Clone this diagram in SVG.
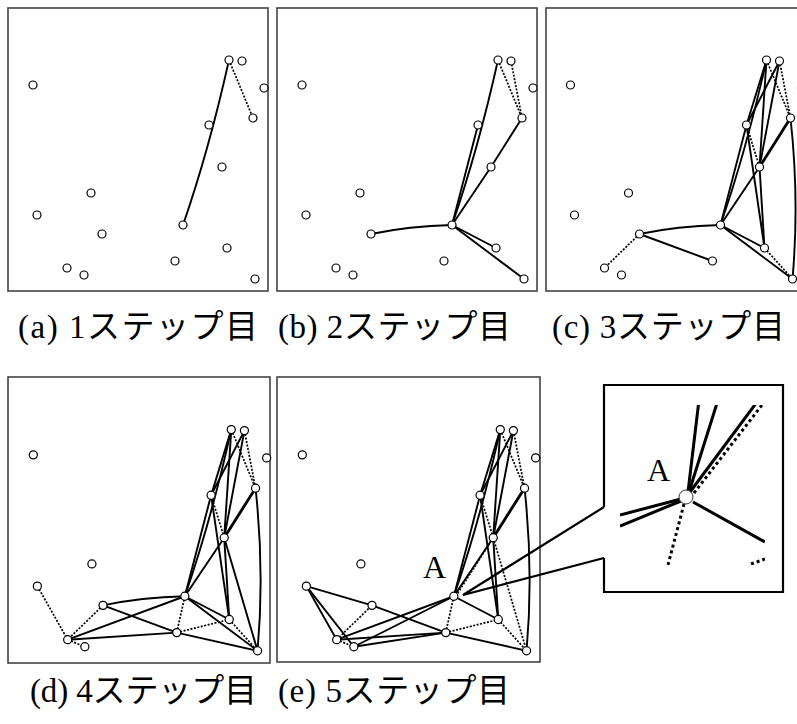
<svg xmlns="http://www.w3.org/2000/svg" width="797" height="724" viewBox="0 0 797 724">
<style>
.frame{fill:none;stroke:#444;stroke-width:1.6}
.node{fill:#fff;stroke:#000;stroke-width:1.2}
.s{fill:none;stroke:#000;stroke-width:1.9}
.t{fill:none;stroke:#000;stroke-width:2.8}
.d{fill:none;stroke:#000;stroke-width:1.7;stroke-dasharray:2 1.5}
.lbl{font-family:"Liberation Serif","Noto Sans CJK JP",serif;font-size:33px;fill:#000}
.big{font-family:"Liberation Serif",serif;font-size:32px;fill:#000}
.is{fill:none;stroke:#000;stroke-width:3}
.id{fill:none;stroke:#000;stroke-width:3;stroke-dasharray:3 3}
</style>
<defs>
<clipPath id="inclip"><rect x="620" y="405" width="145" height="160"/></clipPath>
</defs>

<!-- Panel frames -->
<rect class="frame" x="8" y="8" width="260" height="283"/>
<rect class="frame" x="277" y="8" width="260" height="283"/>
<rect class="frame" x="546" y="8" width="262" height="283"/>
<rect class="frame" x="8" y="377" width="262" height="286"/>
<rect class="frame" x="277" y="377" width="263" height="285"/>

<!-- Panel (a) -->
<g id="panel-a">
<g id="a-connectors">
<path class="s" d="M183,225 Q209,150 229,60"/>
<line class="d" x1="229" y1="60" x2="253" y2="118"/>
</g>
<g id="a-n1"><circle class="node" cx="33" cy="85" r="4"/></g>
<g id="a-n2"><circle class="node" cx="229" cy="60" r="4"/></g>
<g id="a-n3"><circle class="node" cx="242" cy="61" r="4"/></g>
<g id="a-n4"><circle class="node" cx="264" cy="88" r="4"/></g>
<g id="a-n5"><circle class="node" cx="253" cy="118" r="4"/></g>
<g id="a-n6"><circle class="node" cx="209" cy="125" r="4"/></g>
<g id="a-n7"><circle class="node" cx="222" cy="167" r="4"/></g>
<g id="a-n8"><circle class="node" cx="91" cy="193" r="4"/></g>
<g id="a-n9"><circle class="node" cx="37" cy="215" r="4"/></g>
<g id="a-n10"><circle class="node" cx="183" cy="225" r="4"/></g>
<g id="a-n11"><circle class="node" cx="102" cy="234" r="4"/></g>
<g id="a-n12"><circle class="node" cx="227" cy="248" r="4"/></g>
<g id="a-n13"><circle class="node" cx="175" cy="261" r="4"/></g>
<g id="a-n14"><circle class="node" cx="67" cy="268" r="4"/></g>
<g id="a-n15"><circle class="node" cx="84" cy="275" r="4"/></g>
<g id="a-n16"><circle class="node" cx="255" cy="279" r="4"/></g>
</g>

<!-- Panel (b) -->
<g id="panel-b" transform="translate(269,0)">
<g id="b-connectors">
<path class="s" d="M183,225 Q209,150 229,60"/>
<line class="s" x1="183" y1="225" x2="209" y2="125"/>
<line class="s" x1="183" y1="225" x2="222" y2="167"/>
<line class="s" x1="222" y1="167" x2="253" y2="118"/>
<path class="s" d="M183,225 Q140,226 102,234"/>
<line class="s" x1="183" y1="225" x2="227" y2="248"/>
<line class="s" x1="183" y1="225" x2="255" y2="279"/>
<line class="d" x1="229" y1="60" x2="253" y2="118"/>
<line class="d" x1="242" y1="61" x2="253" y2="118"/>
</g>
<g id="b-n1"><circle class="node" cx="33" cy="85" r="4"/></g>
<g id="b-n2"><circle class="node" cx="229" cy="60" r="4"/></g>
<g id="b-n3"><circle class="node" cx="242" cy="61" r="4"/></g>
<g id="b-n4"><circle class="node" cx="264" cy="88" r="4"/></g>
<g id="b-n5"><circle class="node" cx="253" cy="118" r="4"/></g>
<g id="b-n6"><circle class="node" cx="209" cy="125" r="4"/></g>
<g id="b-n7"><circle class="node" cx="222" cy="167" r="4"/></g>
<g id="b-n8"><circle class="node" cx="91" cy="193" r="4"/></g>
<g id="b-n9"><circle class="node" cx="37" cy="215" r="4"/></g>
<g id="b-n10"><circle class="node" cx="183" cy="225" r="4"/></g>
<g id="b-n11"><circle class="node" cx="102" cy="234" r="4"/></g>
<g id="b-n12"><circle class="node" cx="227" cy="248" r="4"/></g>
<g id="b-n13"><circle class="node" cx="175" cy="261" r="4"/></g>
<g id="b-n14"><circle class="node" cx="67" cy="268" r="4"/></g>
<g id="b-n15"><circle class="node" cx="84" cy="275" r="4"/></g>
<g id="b-n16"><circle class="node" cx="255" cy="279" r="4"/></g>
</g>

<!-- Panel (c) -->
<g id="panel-c" transform="translate(537.5,0)">
<g id="c-connectors">
<path class="s" d="M183,225 Q209,150 229,60"/>
<line class="s" x1="183" y1="225" x2="209" y2="125"/>
<line class="s" x1="183" y1="225" x2="222" y2="167"/>
<line class="t" x1="222" y1="167" x2="253" y2="118"/>
<path class="s" d="M183,225 Q140,226 102,234"/>
<line class="s" x1="102" y1="234" x2="175" y2="261"/>
<line class="s" x1="183" y1="225" x2="227" y2="248"/>
<line class="s" x1="183" y1="225" x2="255" y2="279"/>
<line class="s" x1="229" y1="60" x2="209" y2="125"/>
<line class="s" x1="242" y1="61" x2="209" y2="125"/>
<line class="s" x1="229" y1="60" x2="222" y2="167"/>
<line class="s" x1="242" y1="61" x2="222" y2="167"/>
<line class="s" x1="209" y1="125" x2="227" y2="248"/>
<line class="s" x1="222" y1="167" x2="227" y2="248"/>
<path class="s" d="M253,118 Q262,200 255,279"/>
<line class="d" x1="102" y1="234" x2="67" y2="268"/>
<line class="d" x1="227" y1="248" x2="255" y2="279"/>
<line class="d" x1="229" y1="60" x2="253" y2="118"/>
<line class="d" x1="242" y1="61" x2="253" y2="118"/>
<line class="d" x1="209" y1="125" x2="222" y2="167"/>
</g>
<g id="c-n1"><circle class="node" cx="33" cy="85" r="4"/></g>
<g id="c-n2"><circle class="node" cx="229" cy="60" r="4"/></g>
<g id="c-n3"><circle class="node" cx="242" cy="61" r="4"/></g>
<g id="c-n4"><circle class="node" cx="264" cy="88" r="4"/></g>
<g id="c-n5"><circle class="node" cx="253" cy="118" r="4"/></g>
<g id="c-n6"><circle class="node" cx="209" cy="125" r="4"/></g>
<g id="c-n7"><circle class="node" cx="222" cy="167" r="4"/></g>
<g id="c-n8"><circle class="node" cx="91" cy="193" r="4"/></g>
<g id="c-n9"><circle class="node" cx="37" cy="215" r="4"/></g>
<g id="c-n10"><circle class="node" cx="183" cy="225" r="4"/></g>
<g id="c-n11"><circle class="node" cx="102" cy="234" r="4"/></g>
<g id="c-n12"><circle class="node" cx="227" cy="248" r="4"/></g>
<g id="c-n13"><circle class="node" cx="175" cy="261" r="4"/></g>
<g id="c-n14"><circle class="node" cx="67" cy="268" r="4"/></g>
<g id="c-n15"><circle class="node" cx="84" cy="275" r="4"/></g>
<g id="c-n16"><circle class="node" cx="255" cy="279" r="4"/></g>
</g>

<!-- Panel (d) -->
<g id="panel-d" transform="translate(0,369) scale(1.01)">
<g id="d-connectors">
<path class="s" d="M183,225 Q209,150 229,60"/>
<line class="s" x1="183" y1="225" x2="209" y2="125"/>
<line class="s" x1="183" y1="225" x2="222" y2="167"/>
<line class="t" x1="222" y1="167" x2="253" y2="118"/>
<path class="s" d="M183,225 Q140,226 102,234"/>
<line class="s" x1="102" y1="234" x2="175" y2="261"/>
<line class="s" x1="183" y1="225" x2="227" y2="248"/>
<line class="s" x1="183" y1="225" x2="255" y2="279"/>
<line class="s" x1="229" y1="60" x2="209" y2="125"/>
<line class="s" x1="242" y1="61" x2="209" y2="125"/>
<line class="s" x1="229" y1="60" x2="222" y2="167"/>
<line class="s" x1="242" y1="61" x2="222" y2="167"/>
<line class="s" x1="209" y1="125" x2="227" y2="248"/>
<line class="s" x1="222" y1="167" x2="227" y2="248"/>
<line class="s" x1="222" y1="167" x2="255" y2="279"/>
<path class="s" d="M253,118 Q262,200 255,279"/>
<line class="s" x1="67" y1="268" x2="183" y2="225"/>
<line class="s" x1="67" y1="268" x2="175" y2="261"/>
<line class="s" x1="175" y1="261" x2="255" y2="279"/>
<line class="d" x1="102" y1="234" x2="67" y2="268"/>
<line class="d" x1="37" y1="215" x2="67" y2="268"/>
<line class="d" x1="67" y1="268" x2="84" y2="275"/>
<line class="d" x1="183" y1="225" x2="175" y2="261"/>
<line class="d" x1="175" y1="261" x2="227" y2="248"/>
<line class="d" x1="227" y1="248" x2="255" y2="279"/>
<line class="d" x1="229" y1="60" x2="253" y2="118"/>
<line class="d" x1="242" y1="61" x2="253" y2="118"/>
<line class="d" x1="209" y1="125" x2="222" y2="167"/>
</g>
<g id="d-n1"><circle class="node" cx="33" cy="85" r="4"/></g>
<g id="d-n2"><circle class="node" cx="229" cy="60" r="4"/></g>
<g id="d-n3"><circle class="node" cx="242" cy="61" r="4"/></g>
<g id="d-n4"><circle class="node" cx="264" cy="88" r="4"/></g>
<g id="d-n5"><circle class="node" cx="253" cy="118" r="4"/></g>
<g id="d-n6"><circle class="node" cx="209" cy="125" r="4"/></g>
<g id="d-n7"><circle class="node" cx="222" cy="167" r="4"/></g>
<g id="d-n8"><circle class="node" cx="91" cy="193" r="4"/></g>
<g id="d-n9"><circle class="node" cx="37" cy="215" r="4"/></g>
<g id="d-n10"><circle class="node" cx="183" cy="225" r="4"/></g>
<g id="d-n11"><circle class="node" cx="102" cy="234" r="4"/></g>
<g id="d-n12"><circle class="node" cx="227" cy="248" r="4"/></g>
<g id="d-n13"><circle class="node" cx="175" cy="261" r="4"/></g>
<g id="d-n14"><circle class="node" cx="67" cy="268" r="4"/></g>
<g id="d-n15"><circle class="node" cx="84" cy="275" r="4"/></g>
<g id="d-n16"><circle class="node" cx="255" cy="279" r="4"/></g>
</g>

<!-- Panel (e) -->
<g id="panel-e" transform="translate(269,369) scale(1.01)">
<g id="e-connectors">
<path class="s" d="M183,225 Q209,150 229,60"/>
<line class="s" x1="183" y1="225" x2="209" y2="125"/>
<line class="s" x1="183" y1="225" x2="222" y2="167"/>
<line class="t" x1="222" y1="167" x2="253" y2="118"/>
<line class="s" x1="229" y1="60" x2="209" y2="125"/>
<line class="s" x1="242" y1="61" x2="209" y2="125"/>
<line class="s" x1="229" y1="60" x2="222" y2="167"/>
<line class="s" x1="242" y1="61" x2="222" y2="167"/>
<line class="s" x1="209" y1="125" x2="227" y2="248"/>
<line class="s" x1="222" y1="167" x2="227" y2="248"/>
<path class="s" d="M253,118 Q262,200 255,279"/>
<line class="s" x1="37" y1="215" x2="102" y2="234"/>
<line class="s" x1="102" y1="234" x2="175" y2="261"/>
<line class="s" x1="37" y1="215" x2="67" y2="268"/>
<line class="s" x1="37" y1="215" x2="84" y2="275"/>
<line class="s" x1="67" y1="268" x2="183" y2="225"/>
<line class="s" x1="84" y1="275" x2="183" y2="225"/>
<line class="s" x1="67" y1="268" x2="175" y2="261"/>
<line class="s" x1="84" y1="275" x2="175" y2="261"/>
<line class="s" x1="175" y1="261" x2="255" y2="279"/>
<line class="s" x1="183" y1="225" x2="227" y2="248"/>
<line class="d" x1="229" y1="60" x2="253" y2="118"/>
<line class="d" x1="242" y1="61" x2="253" y2="118"/>
<line class="d" x1="209" y1="125" x2="222" y2="167"/>
<line class="d" x1="222" y1="167" x2="255" y2="279"/>
<line class="d" x1="185" y1="225" x2="253" y2="118"/>
<line class="d" x1="67" y1="268" x2="102" y2="234"/>
<line class="d" x1="67" y1="268" x2="84" y2="275"/>
<line class="d" x1="183" y1="225" x2="175" y2="261"/>
<line class="d" x1="175" y1="261" x2="227" y2="248"/>
<line class="d" x1="227" y1="248" x2="255" y2="279"/>
</g>
<g id="e-n1"><circle class="node" cx="33" cy="85" r="4"/></g>
<g id="e-n2"><circle class="node" cx="229" cy="60" r="4"/></g>
<g id="e-n3"><circle class="node" cx="242" cy="61" r="4"/></g>
<g id="e-n4"><circle class="node" cx="264" cy="88" r="4"/></g>
<g id="e-n5"><circle class="node" cx="253" cy="118" r="4"/></g>
<g id="e-n6"><circle class="node" cx="209" cy="125" r="4"/></g>
<g id="e-n7"><circle class="node" cx="222" cy="167" r="4"/></g>
<g id="e-n8"><circle class="node" cx="91" cy="193" r="4"/></g>
<g id="e-n9"><circle class="node" cx="37" cy="215" r="4"/></g>
<g id="e-n10"><circle class="node" cx="183" cy="225" r="4"/></g>
<g id="e-n11"><circle class="node" cx="102" cy="234" r="4"/></g>
<g id="e-n12"><circle class="node" cx="227" cy="248" r="4"/></g>
<g id="e-n13"><circle class="node" cx="175" cy="261" r="4"/></g>
<g id="e-n14"><circle class="node" cx="67" cy="268" r="4"/></g>
<g id="e-n15"><circle class="node" cx="84" cy="275" r="4"/></g>
<g id="e-n16"><circle class="node" cx="255" cy="279" r="4"/></g>
</g>
<text class="big" x="423" y="578">A</text>

<!-- Magnified inset with callout -->
<g id="inset">
<rect x="604" y="385" width="179" height="207" fill="#fff" stroke="none"/>
<path d="M604,507 L463,595 L604,558" fill="none" stroke="#000" stroke-width="2.2"/>
<path d="M604,507 L604,385 L783,385 L783,592 L604,592 L604,558" fill="none" stroke="#000" stroke-width="2.2"/>
<g clip-path="url(#inclip)">
<line class="is" x1="688" y1="492" x2="699" y2="400"/>
<line class="is" x1="689" y1="492" x2="718" y2="400"/>
<line class="is" x1="690" y1="492" x2="757" y2="402"/>
<line class="id" x1="694" y1="493" x2="762" y2="405"/>
<line class="is" x1="681" y1="499" x2="620" y2="515"/>
<line class="is" x1="681" y1="501" x2="620" y2="526"/>
<line class="id" x1="684" y1="504" x2="668" y2="565"/>
<line class="is" x1="693" y1="502" x2="765" y2="542"/>
<line class="id" x1="751" y1="564" x2="765" y2="559"/>
</g>
<circle cx="686" cy="497" r="7" fill="#fff" stroke="#333" stroke-width="1"/>
<text class="big" x="647" y="481">A</text>
</g>

<!-- Captions -->
<text class="lbl" x="18" y="338" textLength="240">(a) 1ステップ目</text>
<text class="lbl" x="278" y="338" textLength="233">(b) 2ステップ目</text>
<text class="lbl" x="552" y="338" textLength="233">(c) 3ステップ目</text>
<text class="lbl" x="30" y="702" textLength="227">(d) 4ステップ目</text>
<text class="lbl" x="278" y="702" textLength="232">(e) 5ステップ目</text>
</svg>
